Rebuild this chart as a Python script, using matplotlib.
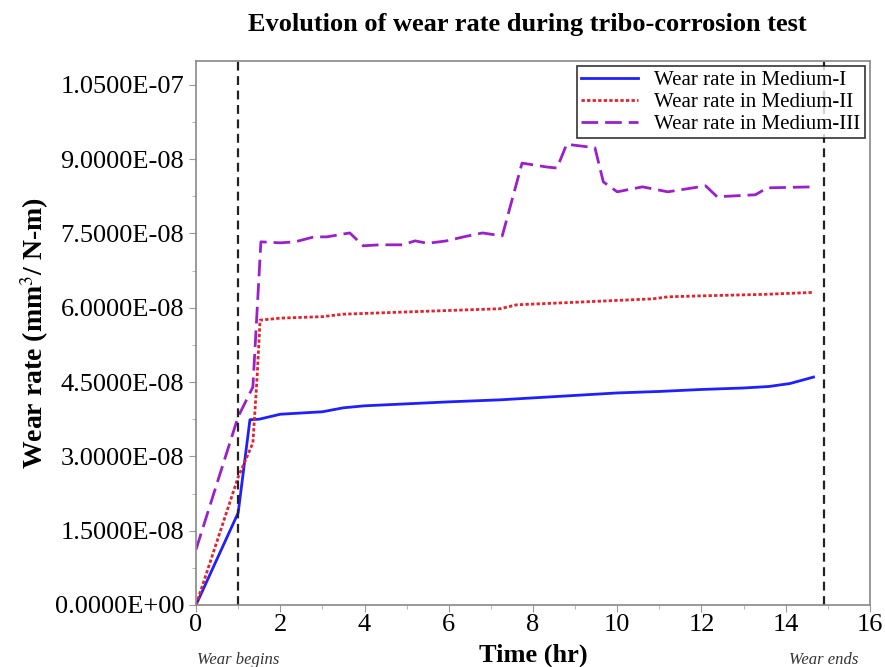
import matplotlib
matplotlib.use("Agg")
import matplotlib.pyplot as plt
from matplotlib.ticker import MultipleLocator, FuncFormatter

plt.rcParams['font.family'] = ['Liberation Serif', 'DejaVu Serif']
plt.rcParams['mathtext.fontset'] = 'stix'

t1 = [0.0, 1.0, 1.28, 1.5, 2.0, 3.0, 3.5, 4.0, 5.0, 6.0, 7.2, 8.0, 9.0, 10.0, 11.0, 12.0, 13.0, 13.6, 14.1, 14.66]
w1 = [0.0, 1.86e-8, 3.74e-8, 3.75e-8, 3.85e-8, 3.9e-8, 3.98e-8, 4.02e-8, 4.06e-8, 4.1e-8, 4.14e-8, 4.18e-8, 4.23e-8, 4.28e-8, 4.31e-8, 4.35e-8, 4.38e-8, 4.41e-8, 4.47e-8, 4.6e-8]

t2 = [0.0, 1.0, 1.35, 1.45, 1.52, 2.0, 3.0, 3.5, 4.5, 5.5, 7.22, 7.62, 9.0, 10.85, 11.2, 12.0, 13.5, 14.66]
w2 = [0.0, 2.58e-8, 3.27e-8, 4.6e-8, 5.75e-8, 5.79e-8, 5.82e-8, 5.87e-8, 5.9e-8, 5.93e-8, 5.98e-8, 6.06e-8, 6.11e-8, 6.18e-8, 6.22e-8, 6.24e-8, 6.27e-8, 6.31e-8]

t3 = [0.0, 1.0, 1.35, 1.54, 2.0, 2.35, 2.8, 3.1, 3.65, 3.97, 4.35, 4.9, 5.2, 5.5, 5.95, 6.35, 6.8, 7.27,
      7.74, 8.33, 8.57, 8.8, 9.47, 9.67, 10.0, 10.6, 11.2, 12.1, 12.37, 13.28, 13.56, 14.66]
w3 = [1.12e-8, 3.8e-8, 4.4e-8, 7.33e-8, 7.31e-8, 7.33e-8, 7.43e-8, 7.43e-8, 7.51e-8, 7.25e-8, 7.27e-8, 7.27e-8, 7.35e-8, 7.3e-8, 7.35e-8, 7.43e-8, 7.51e-8, 7.45e-8,
      8.92e-8, 8.84e-8, 8.82e-8, 9.3e-8, 9.23e-8, 8.54e-8, 8.34e-8, 8.44e-8, 8.34e-8, 8.46e-8, 8.24e-8, 8.28e-8, 8.42e-8, 8.44e-8]

labels = ['Wear rate in Medium-I', 'Wear rate in Medium-II', 'Wear rate in Medium-III']
wear_begin = 1.0
wear_end = 14.9

fig = plt.figure(figsize=(8.85, 6.67), dpi=100)
ax = fig.add_axes([0.2215, 0.093, 0.7615, 0.8155])

ax.plot(t1, w1, color='#1f1fff', lw=2.0, label=labels[0])
ax.plot(t2, w2, color='#e8202a', lw=2.0, linestyle=(0, (1.2, 0.8)), label=labels[1])
ax.plot(t3, w3, color='#9b20cc', lw=2.0, linestyle=(0, (6, 2.5)), label=labels[2])

ax.axvline(wear_begin, color='#222222', lw=1.6, linestyle=(0, (4, 2.5)))
ax.axvline(wear_end, color='#222222', lw=1.6, linestyle=(0, (4, 2.5)))

ax.set_xlim(0, 16)
ax.set_ylim(0, 1.098e-7)
ax.xaxis.set_major_locator(MultipleLocator(2))
ax.xaxis.set_minor_locator(MultipleLocator(1))
ax.yaxis.set_major_locator(MultipleLocator(1.5e-8))
ax.yaxis.set_minor_locator(MultipleLocator(0.75e-8))
ax.yaxis.set_major_formatter(FuncFormatter(lambda v, p: '%.4E' % v))

for s in ax.spines.values():
    s.set_color('#888888')
    s.set_linewidth(1.2)
ax.tick_params(axis='both', which='major', labelsize=19, length=5, color='#999999', direction='out')
ax.tick_params(axis='x', which='major', pad=1.5)
ax.tick_params(axis='both', which='minor', length=3, color='#aaaaaa', direction='out')

fig.text(527 / 885, 1 - 25 / 667, 'Evolution of wear rate during tribo-corrosion test', ha='center', va='center',
         fontsize=19, fontweight='bold')
ax.set_ylabel('Wear rate (mm$^{3}$/ N-m)', fontsize=20, fontweight='bold')
ax.yaxis.set_label_coords(-0.215, 0.5)

fig.text(533 / 885, 1 - 655 / 667, 'Time (hr)', ha='center', va='center', fontsize=19, fontweight='bold')
yoff = -(660 - 605) / (605 - 61)
ax.text(wear_begin, yoff, 'Wear begins', transform=ax.get_xaxis_transform(), ha='center', va='center',
        fontsize=12, style='italic', color='#333333')
ax.text(wear_end, yoff, 'Wear ends', transform=ax.get_xaxis_transform(), ha='center',
        va='center', fontsize=12, style='italic', color='#333333')

leg = ax.legend(loc='upper right', fontsize=15, frameon=True, fancybox=False, edgecolor='black',
                handlelength=2.7, labelspacing=0.12, borderpad=0.2, borderaxespad=0.25, handletextpad=0.8)
leg.get_frame().set_linewidth(1.2)

fig.savefig('out.png', dpi=100)
